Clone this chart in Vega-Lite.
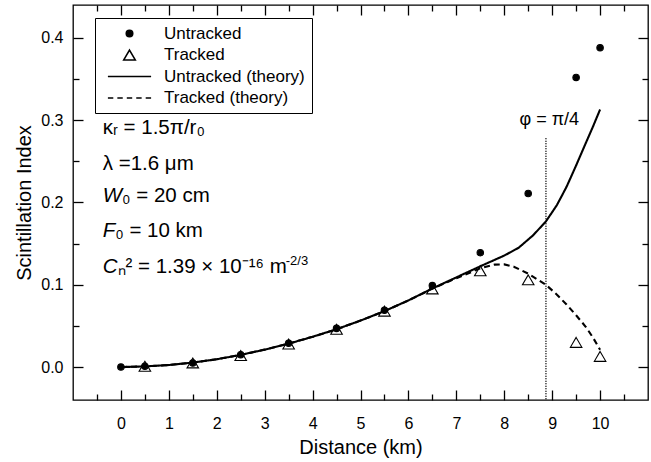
{
  "$schema": "https://vega.github.io/schema/vega-lite/v6.json",
  "width": 575,
  "height": 395,
  "autosize": {"type": "none"},
  "padding": {"left": 73, "top": 5, "right": 3, "bottom": 62},
  "background": "white",
  "config": {
    "font": "Liberation Sans",
    "view": {"stroke": "black", "strokeWidth": 1.3},
    "axis": {
      "grid": false,
      "domain": false,
      "tickColor": "black",
      "tickWidth": 1.3,
      "labelColor": "black",
      "labelFont": "Liberation Sans",
      "labelFontSize": 16,
      "titleFont": "Liberation Sans",
      "titleFontSize": 20,
      "titleFontWeight": "normal",
      "titleColor": "black"
    },
    "text": {"font": "Liberation Sans", "color": "black"}
  },
  "datasets": {
    "points": [
      {"x": 0.5, "y": 0.001, "series": "Tracked"},
      {"x": 1.5, "y": 0.005, "series": "Tracked"},
      {"x": 2.5, "y": 0.014, "series": "Tracked"},
      {"x": 3.5, "y": 0.028, "series": "Tracked"},
      {"x": 4.5, "y": 0.046, "series": "Tracked"},
      {"x": 5.5, "y": 0.068, "series": "Tracked"},
      {"x": 6.5, "y": 0.095, "series": "Tracked"},
      {"x": 7.5, "y": 0.117, "series": "Tracked"},
      {"x": 8.5, "y": 0.106, "series": "Tracked"},
      {"x": 9.5, "y": 0.03, "series": "Tracked"},
      {"x": 10, "y": 0.013, "series": "Tracked"},
      {"x": 0, "y": 0.0, "series": "Untracked"},
      {"x": 0.5, "y": 0.001, "series": "Untracked"},
      {"x": 1.5, "y": 0.005, "series": "Untracked"},
      {"x": 2.5, "y": 0.015, "series": "Untracked"},
      {"x": 3.5, "y": 0.029, "series": "Untracked"},
      {"x": 4.5, "y": 0.047, "series": "Untracked"},
      {"x": 5.5, "y": 0.069, "series": "Untracked"},
      {"x": 6.5, "y": 0.099, "series": "Untracked"},
      {"x": 7.5, "y": 0.139, "series": "Untracked"},
      {"x": 8.5, "y": 0.211, "series": "Untracked"},
      {"x": 9.5, "y": 0.352, "series": "Untracked"},
      {"x": 10, "y": 0.388, "series": "Untracked"}
    ],
    "theory": [
      {"x": 0, "y": 0.0, "series": "Untracked (theory)"},
      {"x": 0.5, "y": 0.0008, "series": "Untracked (theory)"},
      {"x": 1, "y": 0.0025, "series": "Untracked (theory)"},
      {"x": 1.5, "y": 0.0055, "series": "Untracked (theory)"},
      {"x": 2, "y": 0.0095, "series": "Untracked (theory)"},
      {"x": 2.5, "y": 0.0148, "series": "Untracked (theory)"},
      {"x": 3, "y": 0.0212, "series": "Untracked (theory)"},
      {"x": 3.5, "y": 0.0285, "series": "Untracked (theory)"},
      {"x": 4, "y": 0.0368, "series": "Untracked (theory)"},
      {"x": 4.5, "y": 0.046, "series": "Untracked (theory)"},
      {"x": 5, "y": 0.0565, "series": "Untracked (theory)"},
      {"x": 5.5, "y": 0.068, "series": "Untracked (theory)"},
      {"x": 6, "y": 0.081, "series": "Untracked (theory)"},
      {"x": 6.5, "y": 0.0955, "series": "Untracked (theory)"},
      {"x": 7, "y": 0.109, "series": "Untracked (theory)"},
      {"x": 7.5, "y": 0.1225, "series": "Untracked (theory)"},
      {"x": 8, "y": 0.1355, "series": "Untracked (theory)"},
      {"x": 8.3, "y": 0.145, "series": "Untracked (theory)"},
      {"x": 8.6, "y": 0.16, "series": "Untracked (theory)"},
      {"x": 8.87, "y": 0.177, "series": "Untracked (theory)"},
      {"x": 9.1, "y": 0.197, "series": "Untracked (theory)"},
      {"x": 9.3, "y": 0.219, "series": "Untracked (theory)"},
      {"x": 9.5, "y": 0.245, "series": "Untracked (theory)"},
      {"x": 9.7, "y": 0.272, "series": "Untracked (theory)"},
      {"x": 9.85, "y": 0.292, "series": "Untracked (theory)"},
      {"x": 10, "y": 0.313, "series": "Untracked (theory)"},
      {"x": 0, "y": 0.0, "series": "Tracked (theory)"},
      {"x": 0.5, "y": 0.0008, "series": "Tracked (theory)"},
      {"x": 1, "y": 0.0025, "series": "Tracked (theory)"},
      {"x": 1.5, "y": 0.0055, "series": "Tracked (theory)"},
      {"x": 2, "y": 0.0095, "series": "Tracked (theory)"},
      {"x": 2.5, "y": 0.0148, "series": "Tracked (theory)"},
      {"x": 3, "y": 0.0212, "series": "Tracked (theory)"},
      {"x": 3.5, "y": 0.0285, "series": "Tracked (theory)"},
      {"x": 4, "y": 0.0368, "series": "Tracked (theory)"},
      {"x": 4.5, "y": 0.046, "series": "Tracked (theory)"},
      {"x": 5, "y": 0.0565, "series": "Tracked (theory)"},
      {"x": 5.5, "y": 0.068, "series": "Tracked (theory)"},
      {"x": 6, "y": 0.081, "series": "Tracked (theory)"},
      {"x": 6.5, "y": 0.0953, "series": "Tracked (theory)"},
      {"x": 7, "y": 0.108, "series": "Tracked (theory)"},
      {"x": 7.5, "y": 0.12, "series": "Tracked (theory)"},
      {"x": 7.8, "y": 0.1245, "series": "Tracked (theory)"},
      {"x": 8, "y": 0.1248, "series": "Tracked (theory)"},
      {"x": 8.2, "y": 0.122, "series": "Tracked (theory)"},
      {"x": 8.5, "y": 0.1135, "series": "Tracked (theory)"},
      {"x": 8.87, "y": 0.1, "series": "Tracked (theory)"},
      {"x": 9.1, "y": 0.088, "series": "Tracked (theory)"},
      {"x": 9.3, "y": 0.076, "series": "Tracked (theory)"},
      {"x": 9.5, "y": 0.063, "series": "Tracked (theory)"},
      {"x": 9.7, "y": 0.049, "series": "Tracked (theory)"},
      {"x": 9.85, "y": 0.036, "series": "Tracked (theory)"},
      {"x": 10, "y": 0.021, "series": "Tracked (theory)"}
    ],
    "marker": [{"x": 8.87, "y": 0.278, "y2": -0.04}],
    "phi": [{"x": 8.94, "y": 0.294, "text": "φ = π/4"}],
    "notes": [
      {"x": -0.38, "y": 0.283, "text": "κᵣ = 1.5π/r₀"},
      {"x": -0.38, "y": 0.2395, "text": "λ =1.6 μm"},
      {"x": 0.024, "y": 0.201, "text": "₀ = 20 cm"},
      {"x": -0.119, "y": 0.1577, "text": "₀ = 10 km"},
      {"x": -0.071, "y": 0.1145, "text": "ₙ² = 1.39 × 10⁻¹⁶ m"}
    ],
    "notesItalic": [
      {"x": -0.38, "y": 0.201, "text": "W"},
      {"x": -0.38, "y": 0.1577, "text": "F"},
      {"x": -0.38, "y": 0.1145, "text": "C"}
    ],
    "notesSup": [
      {"x": 3.44, "y": 0.124, "text": "-2/3"}
    ]
  },
  "layer": [
    {
      "data": {"name": "theory"},
      "mark": {"type": "line", "color": "black", "strokeWidth": 2.1},
      "encoding": {
        "x": {"field": "x", "type": "quantitative", "scale": {"domain": [-1, 11], "nice": false, "zero": false},
              "axis": {"orient": "bottom", "values": [-0.5, 0.5, 1.5, 2.5, 3.5, 4.5, 5.5, 6.5, 7.5, 8.5, 9.5, 10.5], "tickSize": -6, "labels": false, "title": null}},
        "y": {"field": "y", "type": "quantitative", "scale": {"domain": [-0.04, 0.44], "nice": false, "zero": false},
              "axis": {"orient": "left", "values": [0.05, 0.15, 0.25, 0.35], "tickSize": -6, "labels": false, "title": null}},
        "strokeDash": {"field": "series", "type": "nominal",
                       "scale": {"domain": ["Untracked (theory)", "Tracked (theory)"], "range": [[1, 0], [6, 4]]},
                       "legend": null}
      }
    },
    {
      "data": {"name": "marker"},
      "mark": {"type": "rule", "color": "black", "strokeWidth": 1.5, "strokeDash": [1, 1.5]},
      "encoding": {
        "x": {"field": "x", "type": "quantitative",
              "axis": {"orient": "top", "values": [0, 1, 2, 3, 4, 5, 6, 7, 8, 9, 10], "tickSize": -10, "labels": false, "title": null}},
        "y": {"field": "y", "type": "quantitative",
              "axis": {"orient": "right", "values": [0, 0.1, 0.2, 0.3, 0.4], "tickSize": -10, "labels": false, "title": null}},
        "y2": {"field": "y2"}
      }
    },
    {
      "data": {"name": "phi"},
      "mark": {"type": "text", "fontSize": 18, "align": "center", "baseline": "alphabetic"},
      "encoding": {
        "x": {"field": "x", "type": "quantitative",
              "axis": {"orient": "top", "values": [-0.5, 0.5, 1.5, 2.5, 3.5, 4.5, 5.5, 6.5, 7.5, 8.5, 9.5, 10.5], "tickSize": -6, "labels": false, "title": null}},
        "y": {"field": "y", "type": "quantitative",
              "axis": {"orient": "right", "values": [0.05, 0.15, 0.25, 0.35], "tickSize": -6, "labels": false, "title": null}},
        "text": {"field": "text"}
      }
    },
    {
      "data": {"name": "notes"},
      "mark": {"type": "text", "fontSize": 20.5, "align": "left", "baseline": "alphabetic"},
      "encoding": {
        "x": {"field": "x", "type": "quantitative", "axis": null},
        "y": {"field": "y", "type": "quantitative", "axis": null},
        "text": {"field": "text"}
      }
    },
    {
      "data": {"name": "notesItalic"},
      "mark": {"type": "text", "fontSize": 20.5, "fontStyle": "italic", "align": "left", "baseline": "alphabetic"},
      "encoding": {
        "x": {"field": "x", "type": "quantitative", "axis": null},
        "y": {"field": "y", "type": "quantitative", "axis": null},
        "text": {"field": "text"}
      }
    },
    {
      "data": {"name": "notesSup"},
      "mark": {"type": "text", "fontSize": 13, "align": "left", "baseline": "alphabetic"},
      "encoding": {
        "x": {"field": "x", "type": "quantitative", "axis": null},
        "y": {"field": "y", "type": "quantitative", "axis": null},
        "text": {"field": "text"}
      }
    },
    {
      "data": {"name": "points"},
      "mark": {"type": "point", "filled": true, "size": 81, "strokeWidth": 1.1, "opacity": 1},
      "encoding": {
        "x": {"field": "x", "type": "quantitative",
              "axis": {"orient": "bottom", "values": [0, 1, 2, 3, 4, 5, 6, 7, 8, 9, 10], "tickSize": -10, "labelPadding": 25, "title": "Distance (km)", "titlePadding": 6}},
        "y": {"field": "y", "type": "quantitative",
              "axis": {"orient": "left", "values": [0, 0.1, 0.2, 0.3, 0.4], "format": ".1f", "tickSize": -10, "labelPadding": 20, "title": "Scintillation Index", "titlePadding": 6}},
        "shape": {"field": "series", "type": "nominal",
                  "scale": {"domain": ["Untracked", "Tracked", "Untracked (theory)", "Tracked (theory)"],
                            "range": ["M0.72,0A0.72,0.72,0,1,1,-0.72,0A0.72,0.72,0,1,1,0.72,0Z",
                                      "M0,-1.1L1.28,1.1L-1.28,1.1Z",
                                      "M-4.8,0H4.8",
                                      "M-4.8,0H-3.6M-2.7,0H-1.5M-0.6,0H0.6M1.5,0H2.7M3.6,0H4.8"]},
                  "legend": {"title": null, "orient": "none", "legendX": 22, "legendY": 13, "direction": "vertical",
                             "labelFontSize": 17, "labelFont": "Liberation Sans", "labelColor": "black", "labelLimit": 400,
                             "symbolSize": 81, "symbolStrokeWidth": 1.6, "symbolOffset": 19, "labelOffset": 26,
                             "padding": 7, "rowPadding": 3.5, "strokeColor": "black", "fillColor": "white"}},
        "fill": {"field": "series", "type": "nominal",
                 "scale": {"domain": ["Untracked", "Tracked", "Untracked (theory)", "Tracked (theory)"],
                           "range": ["black", "transparent", "transparent", "transparent"]}},
        "stroke": {"field": "series", "type": "nominal",
                   "scale": {"domain": ["Untracked", "Tracked", "Untracked (theory)", "Tracked (theory)"],
                             "range": ["black", "black", "black", "black"]}}
      }
    }
  ],
  "resolve": {"axis": {"x": "independent", "y": "independent"}}
}
